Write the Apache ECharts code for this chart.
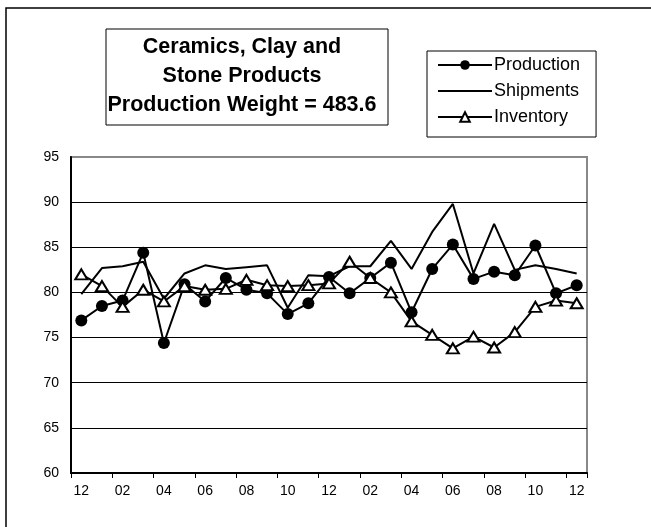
<!DOCTYPE html>
<html>
<head>
<meta charset="utf-8">
<script src="https://cdn.jsdelivr.net/npm/echarts@6/dist/echarts.min.js"></script>
<style>html,body{margin:0;padding:0;background:#fff;}#c{width:651px;height:527px;}</style>
</head>
<body>
<div id="c"></div>
<script>
const months = ['12','01','02','03','04','05','06','07','08','09','10','11','12','01','02','03','04','05','06','07','08','09','10','11','12'];
const production = [76.9, 78.5, 79.1, 84.4, 74.4, 80.9, 79.0, 81.6, 80.3, 79.9, 77.6, 78.8, 81.7, 79.9, 81.6, 83.3, 77.8, 82.6, 85.3, 81.5, 82.3, 81.9, 85.2, 79.9, 80.8];
const shipments = [79.8, 82.7, 82.9, 83.4, 79.3, 82.1, 83.0, 82.6, 82.8, 83.0, 78.3, 81.9, 81.8, 82.9, 82.9, 85.7, 82.6, 86.7, 89.8, 82.1, 87.6, 82.5, 83.0, 82.6, 82.1];
const inventory = [82.0, 80.7, 78.4, 80.3, 79.0, 80.7, 80.3, 80.4, 81.4, 80.8, 80.7, 80.8, 81.0, 83.4, 81.6, 80.0, 76.8, 75.3, 73.8, 75.1, 73.9, 75.6, 78.4, 79.1, 78.8];
const titleLines = ['Ceramics, Clay and', 'Stone Products', 'Production Weight = 483.6'];
const seriesNames = ['Production', 'Shipments', 'Inventory'];

const FONT = 'Liberation Sans, Arial, sans-serif';
const chart = echarts.init(document.getElementById('c'), null, {renderer: 'canvas'});
chart.setOption({
  animation: false,
  backgroundColor: '#fff',
  graphic: [
    {type: 'rect', shape: {x: 6, y: 8, width: 700, height: 600}, style: {fill: 'none', stroke: '#000', lineWidth: 1.5}, silent: true, z: 0},
    {type: 'rect', shape: {x: 106, y: 29, width: 282, height: 96}, style: {fill: '#fff', stroke: '#000', lineWidth: 1}, z: 10},
    {type: 'text', x: 242, y: 76, z: 11, style: {text: titleLines.join('\n'), fill: '#000', font: 'bold 21.5px ' + FONT, lineHeight: 29, textAlign: 'center', textVerticalAlign: 'middle'}}
  ],
  legend: {
    data: [{name: seriesNames[0]}, {name: seriesNames[1], itemStyle: {opacity: 0}}, {name: seriesNames[2]}],
    orient: 'vertical', left: 427, top: 51,
    padding: [5, 16, 11, 10],
    itemWidth: 54, itemHeight: 12, itemGap: 8,
    borderColor: '#000', borderWidth: 1, backgroundColor: '#fff',
    textStyle: {fontSize: 18, lineHeight: 18, color: '#000', fontFamily: FONT, padding: [0, 0, 0, -3]}
  },
  grid: {left: 71, right: 64, top: 157, bottom: 54, show: true, borderColor: '#888', borderWidth: 2, backgroundColor: '#fff'},
  xAxis: {
    type: 'category', data: months, boundaryGap: true,
    axisLine: {lineStyle: {color: '#000', width: 2}},
    axisTick: {show: true, interval: 1, length: 5, lineStyle: {color: '#000', width: 1}},
    axisLabel: {interval: 1, fontSize: 14, color: '#000', fontFamily: FONT, margin: 11}
  },
  yAxis: {
    type: 'value', min: 60, max: 95, interval: 5,
    axisLine: {show: true, lineStyle: {color: '#000', width: 2}},
    axisTick: {show: false},
    axisLabel: {fontSize: 14, color: '#000', fontFamily: FONT, margin: 12},
    splitLine: {lineStyle: {color: ['#000','#000','#000','#000','#000','#000','#000','#888'], width: 1}}
  },
  series: [
    {name: seriesNames[0], type: 'line', data: production, symbol: 'circle', symbolSize: 12,
     itemStyle: {color: '#000'}, lineStyle: {color: '#000', width: 2}, z: 3},
    {name: seriesNames[1], type: 'line', data: shipments, symbol: 'none', showSymbol: false,
     itemStyle: {color: '#000'}, lineStyle: {color: '#000', width: 2}, z: 4},
    {name: seriesNames[2], type: 'line', data: inventory, symbol: 'triangle', symbolSize: [12, 10],
     itemStyle: {color: '#fff', borderColor: '#000', borderWidth: 2}, lineStyle: {color: '#000', width: 2}, z: 5}
  ]
});
</script>
</body>
</html>
